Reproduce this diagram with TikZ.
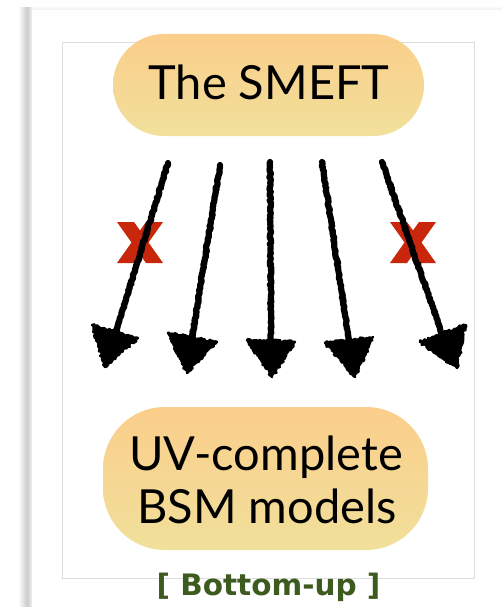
\documentclass[tikz,border=0pt]{standalone}
\usepackage{fontspec}
\setmainfont{Lato}
\newfontfamily\capfont{DejaVu Sans}
\usetikzlibrary{decorations.pathmorphing}
\definecolor{pilltop}{HTML}{FBCB83}
\definecolor{pillbot}{HTML}{F0DE94}
\definecolor{xred}{HTML}{C9270B}
\definecolor{bgreen}{HTML}{3D5B1F}
\definecolor{framegray}{HTML}{DDDDDD}
\tikzset{
  pill/.style={draw=none, top color=pilltop, bottom color=pillbot, fill opacity=0.93},
  pilltext/.style={font=\fontsize{47}{53}\selectfont, text=black},
  shaft/.style={line width=6.2pt, black, line cap=round, line join=round,
    decorate, decoration={random steps, segment length=1.5pt, amplitude=0.8pt}},
  headtri/.style={fill=black, draw=black, line width=2.4pt, line join=round,
    decorate, decoration={random steps, segment length=1.6pt, amplitude=1.4pt}},
  redx/.style={fill=xred, draw=none},
}
\begin{document}
\begin{tikzpicture}[x=1pt,y=-1pt]
\useasboundingbox (0,0) rectangle (502,607);
% panel and shadows
\shade[left color=white, right color=gray!40] (18,8) rectangle (27,607);
\shade[left color=gray!40, right color=gray!12] (27,8) rectangle (32,607);
\shade[top color=white, bottom color=gray!12] (32,5) rectangle (502,10);
\fill[white] (32,10) rectangle (502,607);
% inner frame
\draw[framegray, line width=1pt] (62,43) rectangle (474,578);
% red crosses
\fill[redx] (117,222) -- (134,222) -- (163,263) -- (146,263) -- cycle;
\fill[redx] (146,222) -- (163,222) -- (134,263) -- (117,263) -- cycle;
\fill[redx] (390,222) -- (407,222) -- (436,263) -- (419,263) -- cycle;
\fill[redx] (419,222) -- (436,222) -- (407,263) -- (390,263) -- cycle;
% pills
\node[pill, rounded corners=51pt, minimum width=311pt, minimum height=102pt, inner sep=0pt] (smeft) at (268.5,85) {};
\node[pilltext, anchor=base] (smefttext) at (269,100) {The SMEFT};
\node[pill, rounded corners=62pt, minimum width=325pt, minimum height=143pt, inner sep=0pt] (uv) at (265.5,478.5) {};
\node[pilltext, anchor=base] (uvtext1) at (266,470) {UV-complete};
\node[pilltext, anchor=base] (uvtext2) at (267,523) {BSM models};
% caption
\node[font=\capfont\bfseries\fontsize{29.5}{32}\selectfont, text=bgreen, anchor=base] (cap) at (268.5,595) {[ Bottom-up ]};
% arrows: coordinates
\coordinate (s1) at (168,163); \coordinate (e1) at (116,332);
\coordinate (s2) at (220,165); \coordinate (e2) at (192,338);
\coordinate (s3) at (270,162); \coordinate (e3) at (271,341);
\coordinate (s4) at (322,162); \coordinate (e4) at (349,340);
\coordinate (s5) at (382,162); \coordinate (e5) at (442,334);
\coordinate (a1) at (92,325);  \coordinate (b1) at (138,338); \coordinate (c1) at (105,367);
\coordinate (a2) at (168,333); \coordinate (b2) at (217,342); \coordinate (c2) at (187,373);
\coordinate (a3) at (247,340); \coordinate (b3) at (295,342); \coordinate (c3) at (272,377);
\coordinate (a4) at (325,343); \coordinate (b4) at (373,337); \coordinate (c4) at (355,377);
\coordinate (a5) at (420,342); \coordinate (b5) at (465,325); \coordinate (c5) at (457,368);
\foreach \i in {1,...,5}{
  \draw[shaft] (s\i) -- (e\i);
  \draw[headtri] (a\i) -- (b\i) -- (c\i) -- cycle;
}
\end{tikzpicture}
\end{document}
